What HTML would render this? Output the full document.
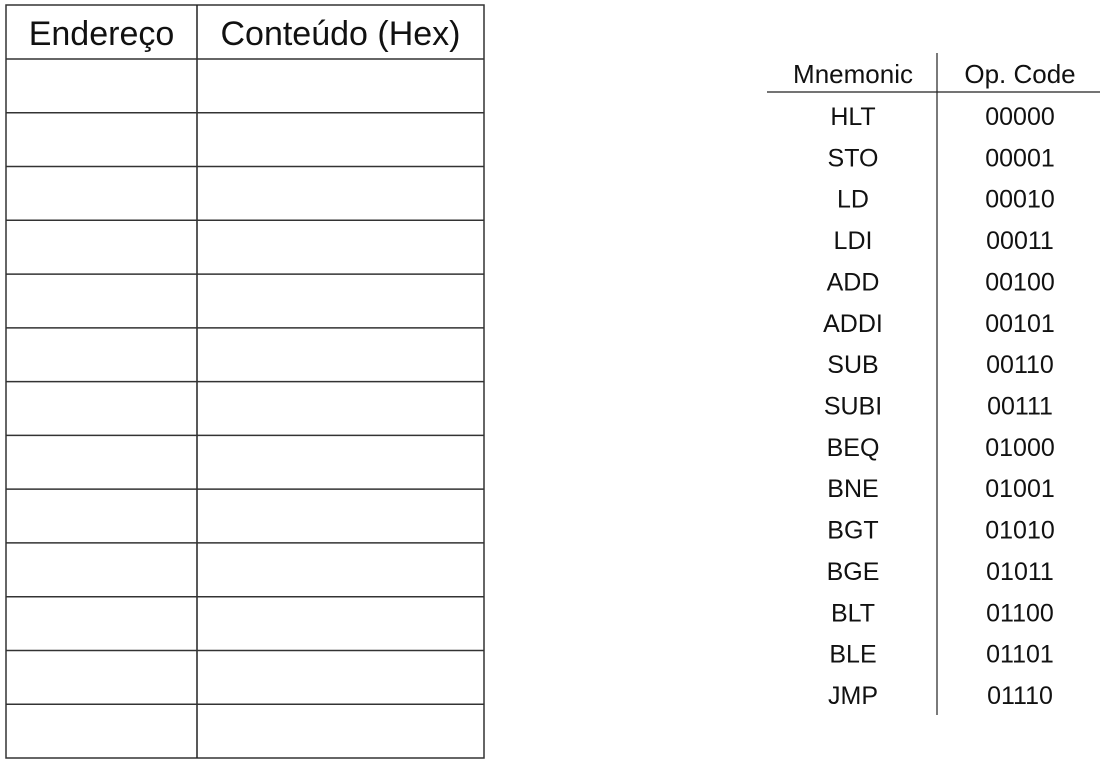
<!DOCTYPE html>
<html><head><meta charset="utf-8"><style>
body{margin:0;width:1106px;height:764px;background:#fff;position:relative;font-family:"Liberation Sans",sans-serif;overflow:hidden}
.a{position:absolute}
</style></head><body>
<svg class="a" style="left:0;top:0" width="1106" height="764">
<g id="left"></g>
<g id="right"></g>
</svg>
<script>
const mnemonics=["HLT","STO","LD","LDI","ADD","ADDI","SUB","SUBI","BEQ","BNE","BGT","BGE","BLT","BLE","JMP"];
const opcodes=["00000","00001","00010","00011","00100","00101","00110","00111","01000","01001","01010","01011","01100","01101","01110"];
const headers=["Endereço","Conteúdo (Hex)"];
const emptyRows=13;
const NS="http://www.w3.org/2000/svg";
function mk(p,tag,attrs){const e=document.createElementNS(NS,tag);for(const k in attrs)e.setAttribute(k,attrs[k]);p.appendChild(e);return e;}
const L=document.getElementById('left');
const x0=6,x1=197,x2=484,y0=5,rh=(758-59)/emptyRows;
const frame=mk(L,'rect',{x:x0,y:y0,width:x2-x0,height:758-y0,fill:'none',stroke:'#333','stroke-width':1.5});


const vd=mk(L,'line',{x1:x1,y1:y0,x2:x1,y2:758,stroke:'#222','stroke-width':1.5});


for(let i=0;i<emptyRows;i++){const y=59+i*rh;const ln=mk(L,'line',{x1:x0,y1:y,x2:x2,y2:y,stroke:'#333','stroke-width':1.5});

}
[(x0+x1)/2,(x1+x2)/2].forEach((cx,i)=>{const t=mk(L,'text',{x:cx,y:45,'text-anchor':'middle','font-size':34,'font-family':'Liberation Sans, sans-serif',fill:'#111'});t.textContent=headers[i];

});
const R=document.getElementById('right');
const vl=mk(R,'line',{x1:937,y1:53,x2:937,y2:715,stroke:'#222','stroke-width':1.2});


const hl=mk(R,'line',{x1:767,y1:92,x2:1100,y2:92,stroke:'#222','stroke-width':1.2});


const c1=853,c2=1020;
[["Mnemonic",c1],["Op. Code",c2]].forEach(([s,cx],i)=>{const t=mk(R,'text',{x:cx,y:83,'text-anchor':'middle','font-size':26,'font-family':'Liberation Sans, sans-serif',fill:'#111'});t.textContent=s;

});
const step=(695-116)/14;
mnemonics.forEach((m,i)=>{const y=116+i*step+9;
const a=mk(R,'text',{x:c1,y:y,'text-anchor':'middle','font-size':25,'font-family':'Liberation Sans, sans-serif',fill:'#111'});a.textContent=m;


const b=mk(R,'text',{x:c2,y:y,'text-anchor':'middle','font-size':25,'font-family':'Liberation Sans, sans-serif',fill:'#111'});b.textContent=opcodes[i];

});
</script>
</body></html>
